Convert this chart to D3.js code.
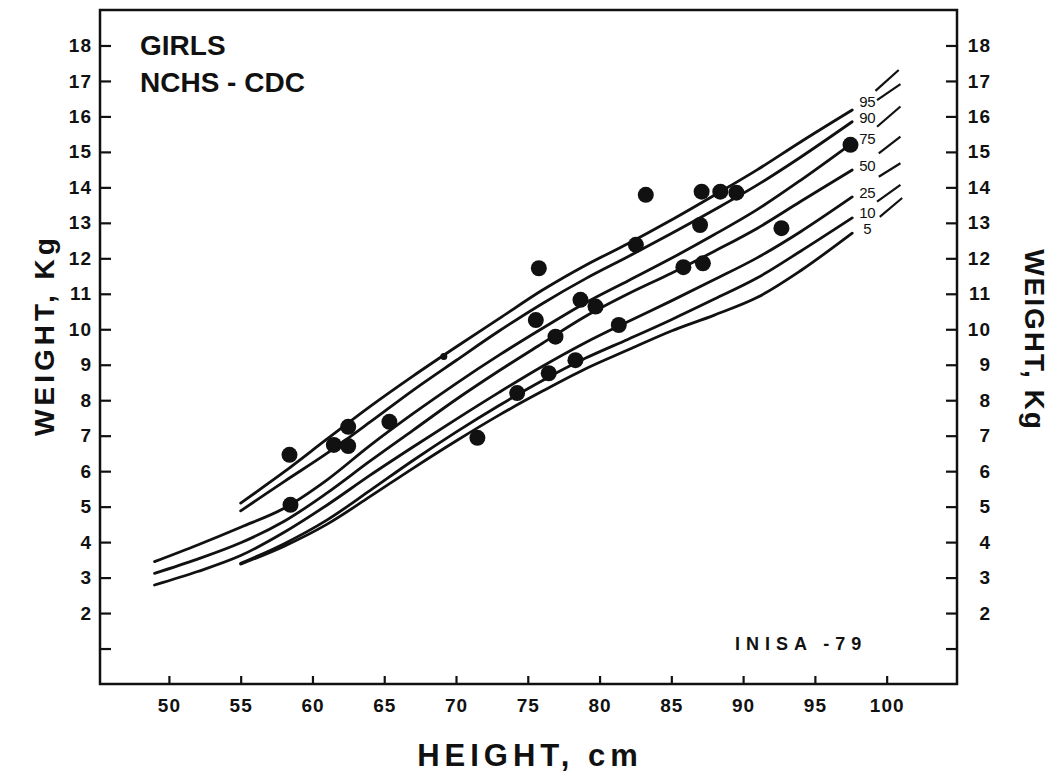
<!DOCTYPE html>
<html>
<head>
<meta charset="utf-8">
<script src="https://cdn.jsdelivr.net/npm/d3@7/dist/d3.min.js"></script>
<style>
  body { margin: 0; background: #fff; }
  text { font-family: "Liberation Sans", Arial, sans-serif; fill: #111; }
</style>
</head>
<body>
<svg id="chart" width="1050" height="774"></svg>
<script>
// ---------------- DATA ----------------
const heightTicks = [50, 55, 60, 65, 70, 75, 80, 85, 90, 95, 100];
const weightTicks = [1, 2, 3, 4, 5, 6, 7, 8, 9, 10, 11, 12, 13, 14, 15, 16, 17, 18];
const weightTickLabels = ["", "2", "3", "4", "5", "6", "7", "8", "9", "10", "11", "12", "13", "14", "15", "16", "17", "18"];

const percentiles = ["95", "90", "75", "50", "25", "10", "5"];
const lengthGrid = [49, 52, 55, 58, 61, 64, 67, 70, 73, 76, 79, 82, 85, 88, 91, 94, 97.6];
const p95 = [null, null, 5.10, 5.97, 6.90, 7.82, 8.68, 9.50, 10.30, 11.10, 11.80, 12.42, 13.08, 13.78, 14.50, 15.28, 16.18];
const p90 = [null, null, 4.88, 5.70, 6.50, 7.38, 8.28, 9.12, 9.95, 10.72, 11.42, 12.05, 12.70, 13.37, 14.07, 14.85, 15.85];
const p75 = [3.45, 3.92, 4.42, 4.95, 5.75, 6.72, 7.62, 8.47, 9.27, 10.02, 10.74, 11.37, 12.00, 12.67, 13.38, 14.20, 15.25];
const p50 = [3.12, 3.52, 3.98, 4.58, 5.38, 6.28, 7.15, 8.02, 8.83, 9.60, 10.36, 11.00, 11.58, 12.20, 12.85, 13.60, 14.49];
const p25 = [2.79, 3.17, 3.62, 4.27, 5.04, 5.88, 6.68, 7.46, 8.22, 8.95, 9.62, 10.22, 10.80, 11.40, 12.02, 12.75, 13.73];
const p10 = [null, null, 3.40, 3.95, 4.62, 5.45, 6.30, 7.10, 7.85, 8.55, 9.18, 9.72, 10.27, 10.85, 11.45, 12.20, 13.14];
const p5  = [null, null, 3.38, 3.88, 4.50, 5.28, 6.08, 6.85, 7.58, 8.25, 8.88, 9.42, 9.95, 10.40, 10.90, 11.65, 12.71];

// short continuation strokes beyond the percentile labels (height cm, weight kg)
const tailStartHeight = [99.22, 99.33, 99.33, 99.45, 99.45, 99.33, 99.52];
const tailStartWeight = [16.72, 16.46, 15.71, 14.96, 14.30, 13.60, 13.17];
const tailEndHeight   = [100.84, 100.96, 100.96, 100.96, 100.96, 100.96, 101.08];
const tailEndWeight   = [17.31, 16.91, 16.28, 15.43, 14.68, 14.07, 13.70];

// observed children (height cm, weight kg)
const childHeight = [58.40, 58.47, 61.49, 62.49, 62.49, 65.36, 71.49, 74.26, 75.77, 75.56, 76.93, 78.67, 79.72,
                     76.46, 78.32, 81.34, 82.53, 83.22, 85.84, 87.11, 87.00, 87.20, 88.41, 89.53, 92.67, 97.48];
const childWeight = [6.46, 5.05, 6.74, 7.25, 6.71, 7.39, 6.94, 8.20, 11.72, 10.26, 9.79, 10.83, 10.64,
                     8.76, 9.13, 10.12, 12.38, 13.79, 11.75, 13.88, 12.94, 11.86, 13.88, 13.85, 12.85, 15.20];
const smallMarkHeight = [69.15];
const smallMarkWeight = [9.23];

// ---------------- CHART ----------------
const svg = d3.select("#chart");
const x = d3.scaleLinear().domain([45.2, 104.9]).range([100, 957]);
const y = d3.scaleLinear().domain([0, 19]).range([684, 10]);
const ink = "#111";

// frame
svg.append("rect")
  .attr("x", x.range()[0]).attr("y", y.range()[1])
  .attr("width", x.range()[1] - x.range()[0])
  .attr("height", y.range()[0] - y.range()[1])
  .attr("fill", "none").attr("stroke", ink).attr("stroke-width", 2.5);

function styleAxis(g) {
  g.select(".domain").remove();
  g.selectAll(".tick line").attr("stroke", ink).attr("stroke-width", 2.2);
  g.selectAll(".tick text").attr("fill", ink)
    .style("font-size", "19px").style("font-weight", "bold").style("letter-spacing", "1px");
}

const tickLabel = d => weightTickLabels[weightTicks.indexOf(d)];

svg.append("g").attr("transform", `translate(${x.range()[0]},0)`)
  .call(d3.axisLeft(y).tickValues(weightTicks).tickFormat(tickLabel)
        .tickSizeInner(-11).tickSizeOuter(0).tickPadding(8))
  .call(styleAxis);

const right = svg.append("g").attr("transform", `translate(${x.range()[1]},0)`)
  .call(d3.axisRight(y).tickValues(weightTicks).tickFormat(tickLabel)
        .tickSizeInner(-11).tickSizeOuter(0).tickPadding(9))
  .call(styleAxis);
right.selectAll(".tick text").attr("text-anchor", "end").attr("x", 34);

svg.append("g").attr("transform", `translate(0,${y.range()[0]})`)
  .call(d3.axisBottom(x).tickValues(heightTicks).tickFormat(d3.format("d"))
        .tickSizeInner(-8).tickSizeOuter(0).tickPadding(15))
  .call(styleAxis);

// percentile curves
const series = [p95, p90, p75, p50, p25, p10, p5];
const line = d3.line()
  .defined(d => d[1] != null)
  .x(d => x(d[0])).y(d => y(d[1]))
  .curve(d3.curveCatmullRom.alpha(0.5));

const curveEnds = [];
series.forEach((vals, i) => {
  const pts = lengthGrid.map((h, j) => [h, vals[j]]).filter(d => d[1] != null);
  curveEnds.push(pts[pts.length - 1]);
  svg.append("path").datum(pts)
    .attr("d", line)
    .attr("fill", "none").attr("stroke", ink)
    .attr("stroke-width", 2.8).attr("stroke-linecap", "round");
});

// percentile labels placed just after each curve end, pushed apart (bottom-up) so they don't collide
const labelY = curveEnds.map(e => y(e[1]));
for (let i = labelY.length - 2; i >= 0; i--) {
  if (labelY[i + 1] - labelY[i] < 16) labelY[i] = labelY[i + 1] - 16;
}
percentiles.forEach((p, i) => {
  svg.append("line")
    .attr("x1", x(tailStartHeight[i])).attr("y1", y(tailStartWeight[i]))
    .attr("x2", x(tailEndHeight[i])).attr("y2", y(tailEndWeight[i]))
    .attr("stroke", ink).attr("stroke-width", 2.2);
  svg.append("text")
    .attr("x", x(curveEnds[i][0]) + 15)
    .attr("y", labelY[i] + 1)
    .attr("text-anchor", "middle")
    .style("font-size", "15px").style("letter-spacing", "-0.5px")
    .text(p);
});

// children
svg.append("g").selectAll("circle")
  .data(childHeight.map((h, i) => [h, childWeight[i]]))
  .join("circle")
  .attr("cx", d => x(d[0])).attr("cy", d => y(d[1]))
  .attr("r", 8).attr("fill", ink);

svg.append("g").selectAll("circle")
  .data(smallMarkHeight.map((h, i) => [h, smallMarkWeight[i]]))
  .join("circle")
  .attr("cx", d => x(d[0])).attr("cy", d => y(d[1]))
  .attr("r", 3.5).attr("fill", ink);

// texts
svg.append("text").attr("x", 140).attr("y", 55)
  .style("font-size", "28px").style("font-weight", "bold").text("GIRLS");
svg.append("text").attr("x", 140).attr("y", 92)
  .style("font-size", "28px").style("font-weight", "bold").text("NCHS - CDC");
svg.append("text").attr("x", 735).attr("y", 650)
  .style("font-size", "18px").style("font-weight", "bold").style("letter-spacing", "6px")
  .text("INISA -79");

svg.append("text")
  .attr("transform", "translate(54,335) rotate(-90)")
  .attr("text-anchor", "middle")
  .style("font-size", "28px").style("font-weight", "bold").style("letter-spacing", "4px")
  .text("WEIGHT, Kg");
svg.append("text")
  .attr("transform", "translate(1025,340) rotate(90)")
  .attr("text-anchor", "middle")
  .style("font-size", "28px").style("font-weight", "bold").style("letter-spacing", "2px")
  .text("WEIGHT, Kg");
svg.append("text")
  .attr("x", 530).attr("y", 766)
  .attr("text-anchor", "middle")
  .style("font-size", "31px").style("font-weight", "bold").style("letter-spacing", "5px")
  .text("HEIGHT, cm");
</script>
</body>
</html>
